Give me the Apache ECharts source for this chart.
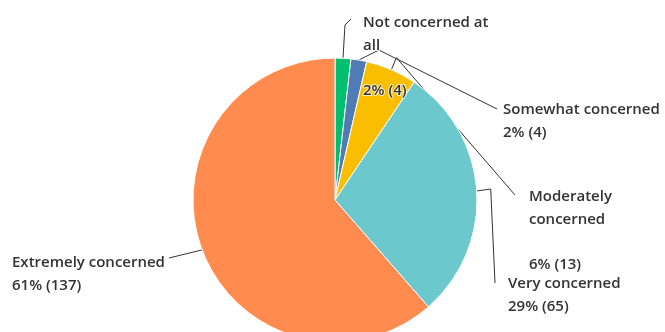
<!DOCTYPE html>
<html>
<head>
<meta charset="utf-8">
<style>
  html, body { margin: 0; padding: 0; background: #fff; }
  #chart { width: 665px; height: 332px; }
</style>
<script src="https://cdn.jsdelivr.net/npm/echarts@6/dist/echarts.min.js"></script>
</head>
<body>
<div id="chart"></div>
<script>
// Survey responses, clockwise from 12 o'clock
const categories = [
  'Not concerned at all',
  'Somewhat concerned',
  'Moderately concerned',
  'Very concerned',
  'Extremely concerned'
];
const responseCounts = [4, 4, 13, 65, 137];
const responsePercents = [2, 2, 6, 29, 61];
const sliceColors = ['#00bf6f', '#507cb6', '#f9be00', '#6bc8cd', '#ff8b4f'];

// How each category name wraps in its label
const wrappedNames = [
  'Not concerned at\nall\n',
  'Somewhat concerned',
  'Moderately\nconcerned\n',
  'Very concerned',
  'Extremely concerned'
];

// Label placement: left edge and centre of the first text line
const LINE_H = 22.5;
const labelSpots = [
  { x: 363, y: 23 },
  { x: 503, y: 110 },
  { x: 529, y: 197 },
  { x: 508, y: 284 },
  { x: 12, y: 263 }
];

// Guide line routing between the slice edge and its label
function guidePoints(i, a, lx, ly, w) {
  switch (i) {
    case 0: return [a, [a[0] + 2, ly + 2], [lx - 12, ly - 4]];
    case 1: return [a, [a[0] + 20, a[1] - 10], [lx - 6, ly - 1]];
    case 2: return [a, [a[0] + 5, a[1] - 12], [lx - 14, ly - 2]];
    case 3: return [a, [a[0] + 14, a[1] - 2], [lx - 13, ly - 1]];
    default: return [a, [lx + w + 2, ly - 5]];
  }
}

const chart = echarts.init(document.getElementById('chart'), null, { renderer: 'canvas' });

chart.setOption({
  animation: false,
  backgroundColor: '#ffffff',
  series: [{
    type: 'pie',
    center: [335, 200],
    radius: 142,
    startAngle: 90,
    clockwise: true,
    avoidLabelOverlap: false,
    data: categories.map((name, i) => ({
      name,
      value: responseCounts[i],
      itemStyle: { color: sliceColors[i] }
    })),
    itemStyle: { borderColor: '#ffffff', borderWidth: 1 },
    label: {
      show: true,
      position: 'outside',
      fontFamily: 'Open Sans',
      fontWeight: 600,
      fontSize: 15,
      lineHeight: LINE_H,
      color: '#333333',
      textBorderColor: 'rgba(255,255,255,0.75)',
      textBorderWidth: 2,
      formatter: p => wrappedNames[p.dataIndex] + '\n' +
        responsePercents[p.dataIndex] + '% (' + responseCounts[p.dataIndex] + ')'
    },
    labelLine: {
      show: true,
      lineStyle: { color: '#333333', width: 1 }
    },
    emphasis: { disabled: true },
    labelLayout: function (params) {
      const i = params.dataIndex;
      const spot = labelSpots[i];
      const anchor = params.labelLinePoints ? params.labelLinePoints[0] : [0, 0];
      const textW = i === 4 ? params.labelRect.width : 0;
      return {
        x: spot.x,
        y: spot.y - LINE_H / 2,
        align: 'left',
        verticalAlign: 'top',
        labelLinePoints: guidePoints(i, [anchor[0], anchor[1]], spot.x, spot.y, textW)
      };
    }
  }]
});
</script>
</body>
</html>
